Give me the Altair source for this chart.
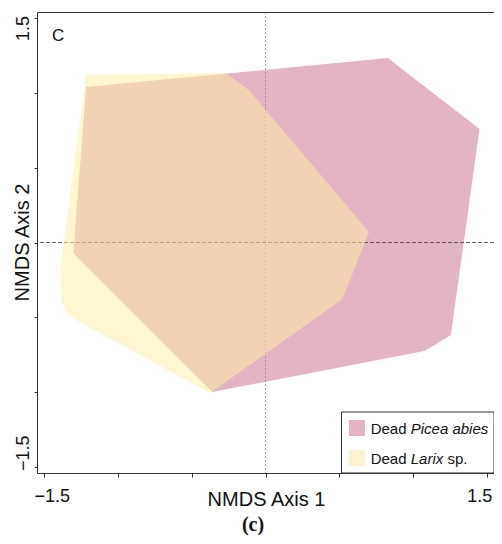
import altair as alt
import pandas as pd

# ---- data ----
picea_x = [-1.213, 0.827, 1.447, 1.253, 1.167, 1.073, -0.360, -1.300]
picea_y = [1.037, 1.230, 0.757, -0.617, -0.670, -0.723, -0.997, -0.070]
larix_x = [-1.213, -0.273, -0.113, 0.700, 0.520, -0.373, -1.280, -1.353, -1.380, -1.387]
larix_y = [1.117, 1.130, 1.017, 0.070, -0.377, -1.003, -0.517, -0.457, -0.383, -0.170]
tick_values = [-1.5, -1.0, -0.5, 0.0, 0.5, 1.0, 1.5]
legend_species = ["Picea abies", "Larix"]
legend_suffix = ["", "sp."]
panel_label = "C"
caption = "(c)"

PINK = "#e4b4c5"
YELLOW_FILL = "#fff09f"
YELLOW_SWATCH = "#fff5cc"
FONT = "Liberation Sans"

W, H = 457, 461

df_p = pd.DataFrame({"x": picea_x, "y": picea_y, "ord": range(len(picea_x))})
df_l = pd.DataFrame({"x": larix_x, "y": larix_y, "ord": range(len(larix_x))})

xscale = alt.Scale(domain=[-1.545, 1.545], nice=False, zero=False)
yscale = alt.Scale(domain=[-1.537, 1.537], nice=False, zero=False)

xaxis = alt.Axis(
    values=tick_values, grid=False, domain=False, tickSize=4, tickColor="#333",
    labelExpr="datum.value == 1.5 ? '1.5' : (datum.value == -1.5 ? '\u22121.5' : '')",
    labelFont=FONT, labelFontSize=18, labelColor="#111", labelFlush=False,
    labelOverlap=False, labelBound=False, labelBaseline="alphabetic", labelPadding=24,
    labelOffset={"condition": {"test": "datum.value < 0", "value": 8}, "value": -8},
    title="NMDS Axis 1", titleFont=FONT, titleFontSize=20, titleFontWeight="normal",
    titleColor="#111", titleX=229, titleY=32, titleBaseline="alphabetic", titleAlign="center",
)
yaxis = alt.Axis(
    values=tick_values, grid=False, domain=False, tickSize=3, tickColor="#333",
    labelExpr="datum.value == 1.5 ? '1.5' : (datum.value == -1.5 ? '\u22121.5' : '')",
    labelFont=FONT, labelFontSize=18, labelColor="#111", labelFlush=False,
    labelOverlap=False, labelBound=False, labelAngle=270, labelBaseline="alphabetic",
    labelAlign={"condition": {"test": "datum.value > 0", "value": "right"}, "value": "left"},
    labelOffset={"condition": {"test": "datum.value > 0", "value": -2}, "value": 3},
    labelPadding=6,
    title="NMDS Axis 2", titleFont=FONT, titleFontSize=20, titleFontWeight="normal",
    titleColor="#111", titleX=-9, titleY=230, titleBaseline="alphabetic", titleAlign="center",
    titleAngle=270,
)

pink = alt.Chart(df_p).mark_line(
    interpolate="linear-closed", fill=PINK, strokeOpacity=0
).encode(
    x=alt.X("x:Q", scale=xscale, axis=xaxis),
    y=alt.Y("y:Q", scale=yscale, axis=yaxis),
    order="ord:Q",
)

vline = alt.Chart(pd.DataFrame({"a": [0]})).mark_rule(
    color="#777", strokeDash=[2, 2], strokeWidth=0.8, opacity=0.8
).encode(x=alt.datum(0))
hline = alt.Chart(pd.DataFrame({"a": [0]})).mark_rule(
    color="#444", strokeDash=[4, 2], strokeWidth=1, opacity=0.85
).encode(y=alt.datum(0))

yellow = alt.Chart(df_l).mark_line(
    interpolate="linear-closed", fill=YELLOW_FILL, fillOpacity=0.52, strokeOpacity=0
).encode(
    x=alt.X("x:Q"),
    y=alt.Y("y:Q"),
    order="ord:Q",
)

one = pd.DataFrame({"a": [0]})

bx = W - 152.5  # legend box left edge (box is flush with the frame's right edge)
legend_box = alt.Chart(one).mark_rect(fill="white", stroke="#333", strokeWidth=1).encode(
    x=alt.value(bx), x2=alt.value(W), y=alt.value(400), y2=alt.value(H)
)
sw1 = alt.Chart(one).mark_rect(fill=PINK).encode(
    x=alt.value(bx + 7.5), x2=alt.value(bx + 23.5), y=alt.value(408), y2=alt.value(424)
)
sw2 = alt.Chart(one).mark_rect(fill=YELLOW_SWATCH).encode(
    x=alt.value(bx + 7.5), x2=alt.value(bx + 23.5), y=alt.value(438), y2=alt.value(454)
)

def txt(s, x, y, size=15, style="normal", align="left", font=FONT, weight="normal"):
    return alt.Chart(pd.DataFrame({"t": [s]})).mark_text(
        align=align, baseline="alphabetic", font=font, fontSize=size,
        fontStyle=style, fontWeight=weight, color="#111"
    ).encode(x=alt.value(x), y=alt.value(y), text="t:N")

lx = bx + 29.2
t_dead1 = txt("Dead", lx, 422)
t_sp1 = txt(legend_species[0], lx + 40, 422, style="italic")
t_dead2 = txt("Dead", lx, 451.6)
t_sp2 = txt(legend_species[1], lx + 40, 451.6, style="italic")
t_suf2 = txt(legend_suffix[1], lx + 40 + 32.5 + 4.2, 451.6)

t_panel = txt(panel_label, 15, 28.5, size=17)
t_caption = txt(caption, 216, 519, size=20, align="center",
                font="Liberation Serif", weight="bold")

chart = alt.layer(
    pink, vline, hline, yellow, legend_box, sw1, sw2,
    t_dead1, t_sp1, t_dead2, t_sp2, t_suf2, t_panel, t_caption
).properties(
    width=W, height=H,
    autosize=alt.AutoSizeParams(type="none"),
    padding={"left": 29, "top": 4, "right": 0, "bottom": 63},
).configure_view(stroke="#333", strokeWidth=1)

chart.save("out.html", embed_options={"renderer": "svg", "actions": False})
